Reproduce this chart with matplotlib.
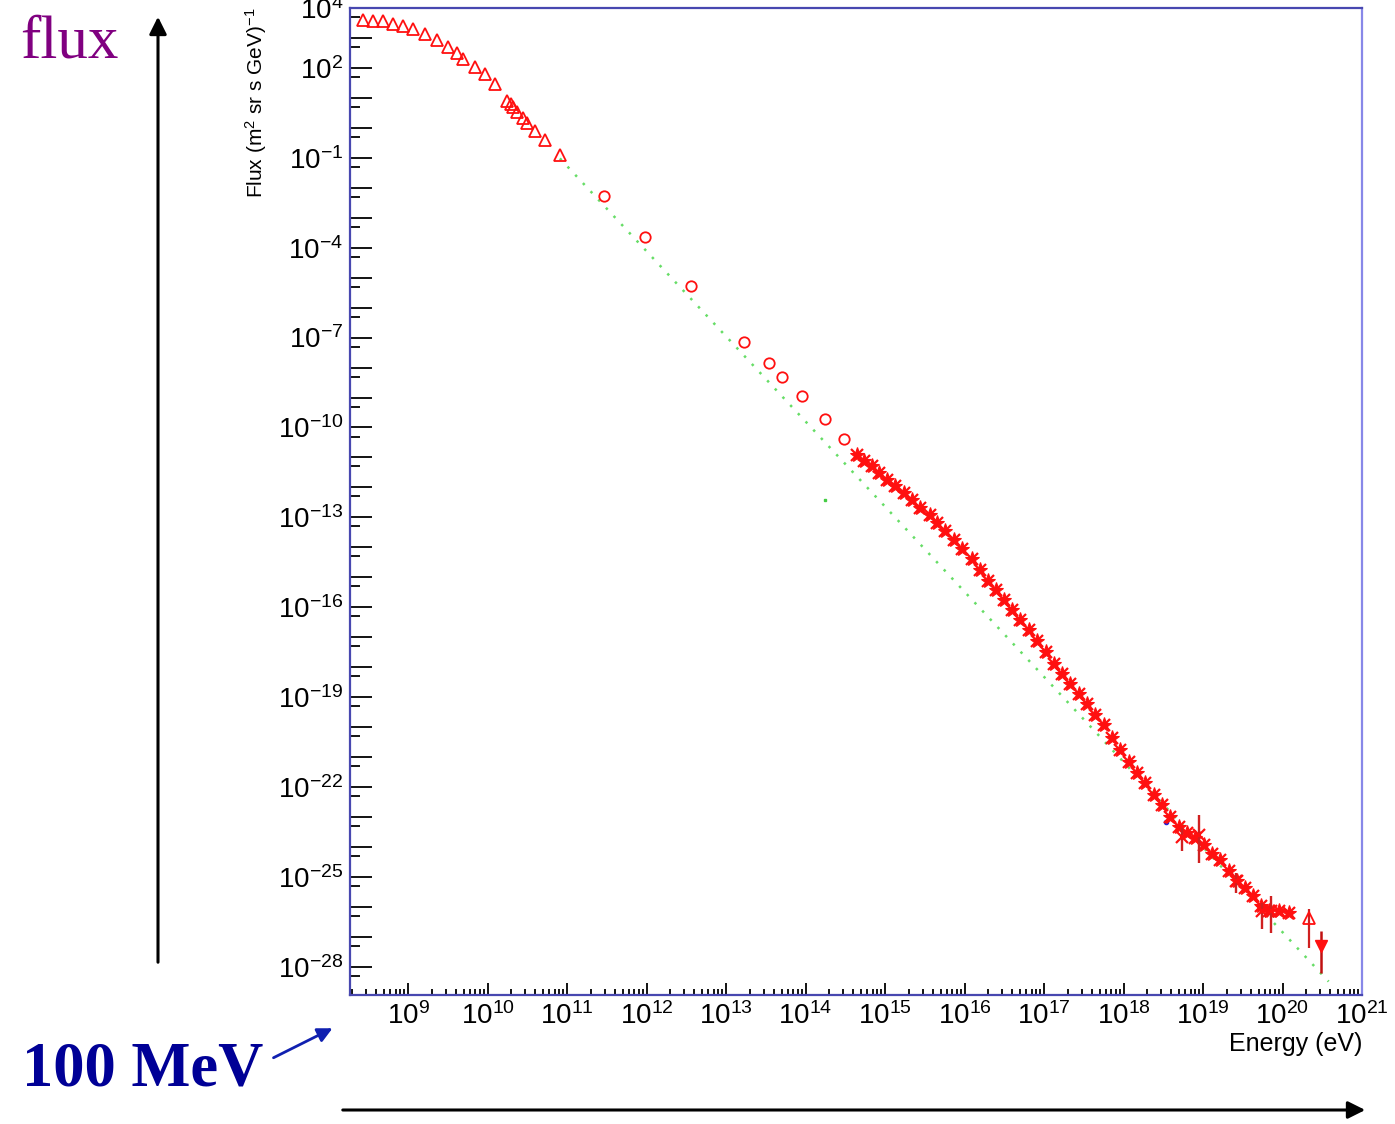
import numpy as np
import matplotlib
matplotlib.use("Agg")
import matplotlib.pyplot as plt
from matplotlib.ticker import FixedLocator, FuncFormatter, LogLocator, NullFormatter
from matplotlib.patches import FancyArrowPatch

plt.rcParams['mathtext.fontset'] = 'custom'
plt.rcParams['mathtext.rm'] = 'Liberation Sans'
plt.rcParams['mathtext.it'] = 'Liberation Sans:italic'
plt.rcParams['mathtext.bf'] = 'Liberation Sans:bold'
plt.rcParams['font.family'] = ['Liberation Sans', 'DejaVu Sans']

# ---------------- data (log10 values) ----------------
# low-energy direct measurements (open triangles)
tri_logE = [8.43, 8.56, 8.69, 8.81, 8.94, 9.06, 9.21, 9.36, 9.50, 9.62, 9.69,
            9.84, 9.97, 10.09, 10.24, 10.29, 10.32, 10.37, 10.44, 10.50, 10.60,
            10.72, 10.91]
tri_logF = [3.61, 3.58, 3.55, 3.48, 3.41, 3.31, 3.14, 2.94, 2.71, 2.50, 2.30,
            2.03, 1.80, 1.46, 0.89, 0.80, 0.69, 0.52, 0.32, 0.15, -0.12,
            -0.42, -0.92]

# intermediate energies (open circles)
circ_logE = [11.46, 11.98, 12.56, 13.23, 13.54, 13.70, 13.95, 14.24, 14.48]
circ_logF = [-2.27, -3.65, -5.29, -7.14, -7.85, -8.32, -8.96, -9.73, -10.37]

# air-shower data (dense filled markers)
air_logE = [14.65, 14.74, 14.83, 14.93, 15.03, 15.13, 15.24, 15.34, 15.44, 15.56,
            15.66, 15.76, 15.87, 15.97, 16.09, 16.19, 16.29, 16.39, 16.50, 16.60,
            16.70, 16.81, 16.91, 17.02, 17.13, 17.23, 17.33, 17.44, 17.54, 17.64,
            17.76, 17.86, 17.96, 18.07, 18.17, 18.27, 18.38, 18.48, 18.59, 18.70,
            18.80, 18.90, 19.01, 19.11, 19.21, 19.33, 19.43, 19.53, 19.63, 19.73,
            19.83, 19.95, 20.08]
air_logF = [-10.91, -11.11, -11.28, -11.51, -11.75, -11.95, -12.18, -12.42, -12.69, -12.92,
            -13.19, -13.46, -13.76, -14.07, -14.40, -14.74, -15.11, -15.41, -15.75, -16.08,
            -16.42, -16.76, -17.13, -17.50, -17.90, -18.24, -18.57, -18.91, -19.24, -19.58,
            -19.92, -20.35, -20.76, -21.16, -21.53, -21.87, -22.27, -22.61, -23.01, -23.34,
            -23.55, -23.71, -23.95, -24.22, -24.45, -24.79, -25.13, -25.36, -25.63, -25.97,
            -26.13, -26.13, -26.20]

# highest-energy points with error bars (crosses)
hi_logE = [18.74, 18.95, 19.41, 19.74, 19.85]
hi_logF = [-23.68, -23.61, -25.13, -26.13, -26.13]
hi_logF_up = [-23.38, -22.94, -24.86, -25.87, -25.63]
hi_logF_lo = [-24.12, -24.52, -25.53, -26.74, -26.87]

# open triangle with error bar
otri_logE = [20.33]
otri_logF = [-26.37]
otri_logF_up = [-26.07]
otri_logF_lo = [-27.38]

# filled down-triangle with error bar
dtri_logE = [20.48]
dtri_logF = [-27.31]
dtri_logF_up = [-26.81]
dtri_logF_lo = [-28.22]

# power-law reference line (green dotted)
fit_logE = [10.91, 20.58]
fit_logF = [-1.02, -28.49]

# stray marks
green_dot_logE, green_dot_logF = [14.25], [-12.42]
blue_dot_logE, blue_dot_logF = [18.54], [-23.18]

x_major_exp = list(range(9, 22))
y_label_exp = [4, 2, -1, -4, -7, -10, -13, -16, -19, -22, -25, -28]
x_lim_exp = [8.27, 21.0]
y_lim_exp = [-28.94, 4.0]

# ---------------- figure ----------------
W, H = 1395, 1124
fig = plt.figure(figsize=(W / 100, H / 100), dpi=100)
fig.patch.set_facecolor('white')

def fx(px):
    return px / W

def fy(py):
    return 1 - py / H

def p(a):
    return 10.0 ** np.asarray(a, dtype=float)

ax = fig.add_axes([fx(350), fy(995), (1362 - 350) / W, (995 - 8) / H])
ax.set_xscale('log')
ax.set_yscale('log')
ax.set_xlim(*p(x_lim_exp))
ax.set_ylim(*p(y_lim_exp))

red = '#ff1010'
ax.plot(p(fit_logE), p(fit_logF), linestyle=(0, (1.0, 3.5)), color='#66dd66', lw=1.8, zorder=1)
ax.plot(p(tri_logE), p(tri_logF), linestyle='none', marker='^', ms=9,
        mfc='none', mec=red, mew=1.3, zorder=3)
ax.plot(p(circ_logE), p(circ_logF), linestyle='none', marker='o', ms=7.5,
        mfc='none', mec=red, mew=1.3, zorder=3)
ax.plot(p(air_logE), p(air_logF), linestyle='none', marker='*', ms=11,
        color=red, mew=0.8, zorder=3)
ax.plot(p(air_logE), p(air_logF), linestyle='none', marker='x', ms=9,
        color=red, mew=1.6, zorder=3)

def errs(c, up, lo):
    c, up, lo = p(c), p(up), p(lo)
    return np.vstack([c - lo, up - c])

ax.errorbar(p(hi_logE), p(hi_logF), yerr=errs(hi_logF, hi_logF_up, hi_logF_lo),
            fmt='x', ms=9, mew=1.6, color=red, ecolor='#d02020', elinewidth=1.7, capsize=0, zorder=3)
ax.errorbar(p(otri_logE), p(otri_logF), yerr=errs(otri_logF, otri_logF_up, otri_logF_lo),
            fmt='^', ms=9, mfc='none', mec=red, mew=1.3, ecolor='#d02020', elinewidth=1.6, capsize=0, zorder=3)
ax.errorbar(p(dtri_logE), p(dtri_logF), yerr=errs(dtri_logF, dtri_logF_up, dtri_logF_lo),
            fmt='v', ms=9, color=red, ecolor='#c01010', elinewidth=1.8, capsize=0, zorder=3)
ax.plot(p(green_dot_logE), p(green_dot_logF), linestyle='none', marker='s', ms=2, color='#44cc44')
ax.plot(p(blue_dot_logE), p(blue_dot_logF), linestyle='none', marker='o', ms=3, color='#2020dd')

# ticks
ax.xaxis.set_major_locator(FixedLocator(p(x_major_exp)))
ax.xaxis.set_major_formatter(FuncFormatter(lambda v, pos: r'$10^{%d}$' % round(np.log10(v))))
ax.xaxis.set_minor_locator(LogLocator(base=10, subs=np.arange(2, 10), numticks=100))
ax.xaxis.set_minor_formatter(NullFormatter())

ax.yaxis.set_major_locator(FixedLocator(p(np.arange(-28, 5))))
ax.yaxis.set_major_formatter(FuncFormatter(
    lambda v, pos: (r'$10^{%d}$' % round(np.log10(v))) if round(np.log10(v)) in y_label_exp else ''))
ax.yaxis.set_minor_locator(FixedLocator(5 * p(np.arange(-29, 4))))
ax.yaxis.set_minor_formatter(NullFormatter())

ax.tick_params(axis='both', which='both', direction='in', color='black', width=1.3,
               top=False, right=False, labelsize=20)
ax.tick_params(axis='y', which='major', length=16, pad=5)
ax.tick_params(axis='y', which='minor', length=7)
ax.tick_params(axis='x', which='major', length=9, pad=5)
ax.tick_params(axis='x', which='minor', length=4)

for side in ['left', 'bottom', 'top']:
    ax.spines[side].set_color('#4848b0')
    ax.spines[side].set_linewidth(1.6)
ax.spines['right'].set_color('#8888e8')
ax.spines['right'].set_linewidth(1.6)

# axis titles
fig.text(fx(256), fy(8), r'Flux (m$^{2}$ sr s GeV)$^{-1}$', rotation=90,
         ha='center', va='top', fontsize=15)
fig.text(fx(1362), fy(1044), 'Energy (eV)', ha='right', va='center', fontsize=18)

# annotations outside the plot
fig.text(fx(20), fy(58), 'flux', ha='left', va='baseline', fontsize=44,
         family='Liberation Serif', color='#800080')
fig.text(fx(22), fy(1085), '100 MeV', ha='left', va='baseline', fontsize=45,
         family='Liberation Serif', weight='bold', color='#000096')

fig.add_artist(FancyArrowPatch((fx(158), fy(965)), (fx(158), fy(14)), transform=fig.transFigure,
                               arrowstyle='-|>', mutation_scale=26, lw=2.2, color='black'))
fig.add_artist(FancyArrowPatch((fx(340), fy(1110)), (fx(1368), fy(1110)), transform=fig.transFigure,
                               arrowstyle='-|>', mutation_scale=26, lw=2.2, color='black'))
fig.add_artist(FancyArrowPatch((fx(271), fy(1059)), (fx(335), fy(1027)), transform=fig.transFigure,
                               arrowstyle='-|>', mutation_scale=22, lw=2.0, color='#1020b0'))

fig.savefig('out.png', dpi=100, facecolor='white')
